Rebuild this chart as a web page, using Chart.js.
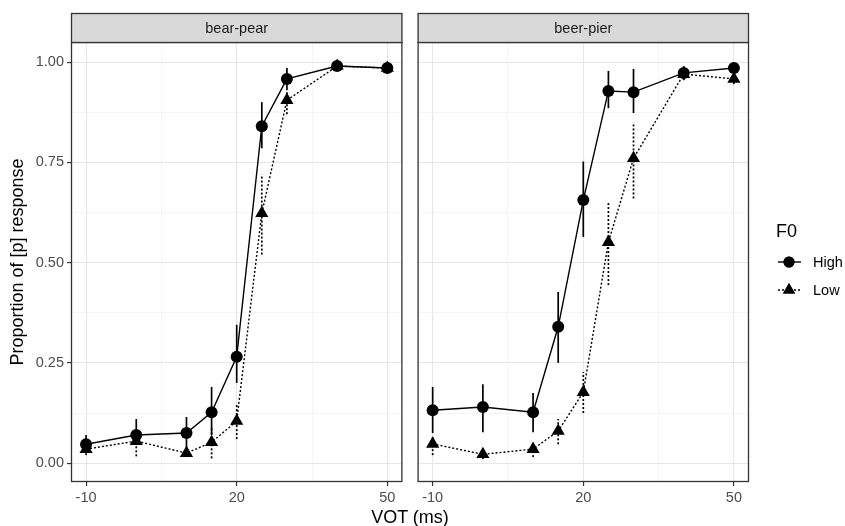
<!DOCTYPE html>
<html><head><meta charset="utf-8">
<script src="https://cdn.jsdelivr.net/npm/chart.js@4"></script>
<style>
html,body{margin:0;padding:0;background:#fff;}
#wrap{position:relative;width:845px;height:526px;overflow:hidden;background:#fff;}
canvas{position:absolute;top:0;}
#xt{position:absolute;left:0;width:820px;text-align:center;top:508px;font-family:"Liberation Sans",Arial,sans-serif;font-size:18px;line-height:18px;color:#000;}
</style></head><body>
<div id="wrap">
<canvas id="c1" width="410" height="526" style="left:0"></canvas>
<canvas id="c2" width="435" height="526" style="left:410px"></canvas>
<div id="xt">VOT (ms)</div>
</div>
<script>
// ---- data ----
const vot = [-10, 0, 10, 15, 20, 25, 30, 40, 50];
const panelNames = ['bear-pear', 'beer-pier'];
const seriesNames = ['High', 'Low'];
const xTickVals = [-10, 5, 20, 35, 50];
const xTickLabels = ['-10', '', '20', '', '50'];
const yTickVals = [0, 0.125, 0.25, 0.375, 0.5, 0.625, 0.75, 0.875, 1];
const yTickLabels = ['0.00', '', '0.25', '', '0.50', '', '0.75', '', '1.00'];

// bear-pear
const bpHigh   = [0.047, 0.070, 0.075, 0.127, 0.265, 0.840, 0.958, 0.990, 0.985];
const bpHighLo = [0.030, 0.045, 0.037, 0.070, 0.200, 0.785, 0.930, 0.980, 0.975];
const bpHighHi = [0.070, 0.110, 0.115, 0.190, 0.345, 0.900, 0.985, 1.000, 0.995];
const bpLow    = [0.035, 0.055, 0.025, 0.052, 0.105, 0.623, 0.905, 0.990, 0.985];
const bpLowLo  = [0.020, 0.017, 0.015, 0.012, 0.060, 0.520, 0.870, 0.980, 0.975];
const bpLowHi  = [0.050, 0.080, 0.035, 0.090, 0.150, 0.720, 0.930, 1.000, 0.995];
// beer-pier
const bHigh    = [0.132, 0.140, 0.127, 0.340, 0.656, 0.928, 0.925, 0.973, 0.985];
const bHighLo  = [0.075, 0.077, 0.077, 0.250, 0.564, 0.885, 0.873, 0.955, 0.970];
const bHighHi  = [0.190, 0.197, 0.175, 0.427, 0.752, 0.978, 0.983, 0.990, 0.995];
const bLow     = [0.048, 0.022, 0.035, 0.080, 0.177, 0.551, 0.760, 0.970, 0.958];
const bLowLo   = [0.020, 0.010, 0.015, 0.047, 0.125, 0.444, 0.660, 0.955, 0.945];
const bLowHi   = [0.065, 0.030, 0.050, 0.110, 0.227, 0.653, 0.850, 0.985, 0.975];

// ---- rendering ----
const FONT = '"Liberation Sans", Arial, sans-serif';
const isMajorX = v => Math.abs(((v + 10) % 30)) < 1e-6;
const isMajorY = v => Math.abs(v * 4 - Math.round(v * 4)) < 1e-6;

function xy(vals) { return vot.map((v, i) => ({x: v, y: vals[i]})); }

function datasets(high, low) {
  return [
    {label: seriesNames[0], data: xy(high), borderColor: '#000', backgroundColor: '#000', borderWidth: 1.4,
     pointStyle: 'circle', pointRadius: 6, pointBorderWidth: 0, pointBackgroundColor: '#000'},
    {label: seriesNames[1], data: xy(low), borderColor: '#000', backgroundColor: '#000', borderWidth: 1.4,
     borderDash: [2, 2], pointStyle: 'triangle', pointRadius: 7.6, pointBorderWidth: 0, pointBackgroundColor: '#000'}
  ];
}

function panelPlugin(strip, errs, legend) {
  return {
    id: 'panel',
    beforeDatasetsDraw(chart) {
      const {ctx, scales: {x, y}} = chart;
      ctx.save();
      errs.forEach(e => {
        ctx.strokeStyle = '#000'; ctx.lineWidth = 1.7; ctx.setLineDash(e.dash);
        vot.forEach((v, i) => {
          const px = x.getPixelForValue(v);
          ctx.beginPath();
          ctx.moveTo(px, y.getPixelForValue(e.lo[i]));
          ctx.lineTo(px, y.getPixelForValue(e.hi[i]));
          ctx.stroke();
        });
      });
      ctx.restore();
    },
    afterDraw(chart) {
      const {ctx, chartArea: a} = chart;
      ctx.save();
      ctx.setLineDash([]);
      ctx.strokeStyle = '#333'; ctx.lineWidth = 1.3;
      ctx.strokeRect(a.left + 0.5, a.top + 0.5, a.right - a.left - 1, a.bottom - a.top - 1);
      ctx.fillStyle = '#d9d9d9';
      ctx.fillRect(a.left, 13, a.right - a.left, a.top - 13);
      ctx.strokeRect(a.left + 0.5, 13.5, a.right - a.left - 1, a.top - 13);
      ctx.fillStyle = '#1a1a1a'; ctx.font = '14.5px ' + FONT;
      ctx.textAlign = 'center'; ctx.textBaseline = 'middle';
      ctx.fillText(strip, (a.left + a.right) / 2, (13 + a.top) / 2 + 1);
      if (legend) {
        const lx = a.right + 27;
        ctx.textAlign = 'left'; ctx.fillStyle = '#000';
        ctx.font = '18px ' + FONT;
        ctx.fillText('F0', lx, 232);
        const items = [{y: 262, dash: [], style: 'circle', r: 5.5, t: seriesNames[0]},
                       {y: 290, dash: [2, 2], style: 'triangle', r: 7, t: seriesNames[1]}];
        items.forEach(it => {
          ctx.setLineDash(it.dash); ctx.strokeStyle = '#000'; ctx.lineWidth = 1.4;
          ctx.beginPath(); ctx.moveTo(lx + 2, it.y); ctx.lineTo(lx + 25, it.y); ctx.stroke();
          ctx.setLineDash([]);
          ctx.fillStyle = '#000';
          Chart.helpers.drawPoint(ctx, {pointStyle: it.style, radius: it.r, borderWidth: 0}, lx + 13, it.y);
          ctx.fill();
          ctx.fillStyle = '#000'; ctx.font = '14.5px ' + FONT;
          ctx.fillText(it.t, lx + 37, it.y + 1);
        });
      }
      ctx.restore();
    }
  };
}

function gridOpts(drawTicks) {
  return {
    color: c => (c.tick && (c.scale.axis === 'x' ? isMajorX(c.tick.value) : isMajorY(c.tick.value))) ? '#e6e6e6' : '#f2f2f2',
    lineWidth: c => (c.tick && (c.scale.axis === 'x' ? isMajorX(c.tick.value) : isMajorY(c.tick.value))) ? 1.1 : 0.8,
    drawTicks: drawTicks,
    tickLength: 4,
    tickWidth: 1.2,
    tickColor: c => (c.tick && (c.scale.axis === 'x' ? isMajorX(c.tick.value) : isMajorY(c.tick.value))) ? '#333' : 'rgba(0,0,0,0)'
  };
}

function makeChart(id, strip, high, low, errs, left, legend) {
  const ctx = document.getElementById(id);
  return new Chart(ctx, {
    type: 'line',
    data: {datasets: datasets(high, low)},
    options: {
      responsive: false, animation: false, devicePixelRatio: 1,
      layout: {padding: left ? {top: 42, right: 4, bottom: 0, left: 0} : {top: 42, right: 96, bottom: 0, left: 0}},
      plugins: {legend: {display: false}, tooltip: {enabled: false}},
      scales: {
        x: {
          type: 'linear', min: -13, max: 53,
          afterBuildTicks: s => { s.ticks = xTickVals.map(v => ({value: v})); },
          afterFit: s => { s.height = 44; },
          border: {display: false},
          grid: gridOpts(true),
          ticks: {autoSkip: false, maxRotation: 0, color: '#4d4d4d', font: {family: FONT, size: 14.5}, padding: 3,
                  callback: (v) => { const i = xTickVals.indexOf(v); return i >= 0 ? xTickLabels[i] : ''; }}
        },
        y: {
          type: 'linear', min: -0.047, max: 1.05,
          afterBuildTicks: s => { s.ticks = yTickVals.map(v => ({value: v})); },
          afterFit: s => { s.width = left ? 71 : 4; },
          border: {display: false},
          grid: gridOpts(left),
          ticks: {display: left, autoSkip: false, color: '#4d4d4d', font: {family: FONT, size: 14.5}, padding: 3,
                  callback: (v) => { const i = yTickVals.indexOf(v); return i >= 0 ? yTickLabels[i] : ''; }},
          title: {display: left, text: 'Proportion of [p] response', color: '#000', font: {family: FONT, size: 18}, padding: {top: 7, bottom: 0}}
        }
      }
    },
    plugins: [panelPlugin(strip, errs, legend)]
  });
}

makeChart('c1', panelNames[0], bpHigh, bpLow,
  [{lo: bpHighLo, hi: bpHighHi, dash: []}, {lo: bpLowLo, hi: bpLowHi, dash: [2, 2]}], true, false);
makeChart('c2', panelNames[1], bHigh, bLow,
  [{lo: bHighLo, hi: bHighHi, dash: []}, {lo: bLowLo, hi: bLowHi, dash: [2, 2]}], false, true);
</script>
</body></html>
